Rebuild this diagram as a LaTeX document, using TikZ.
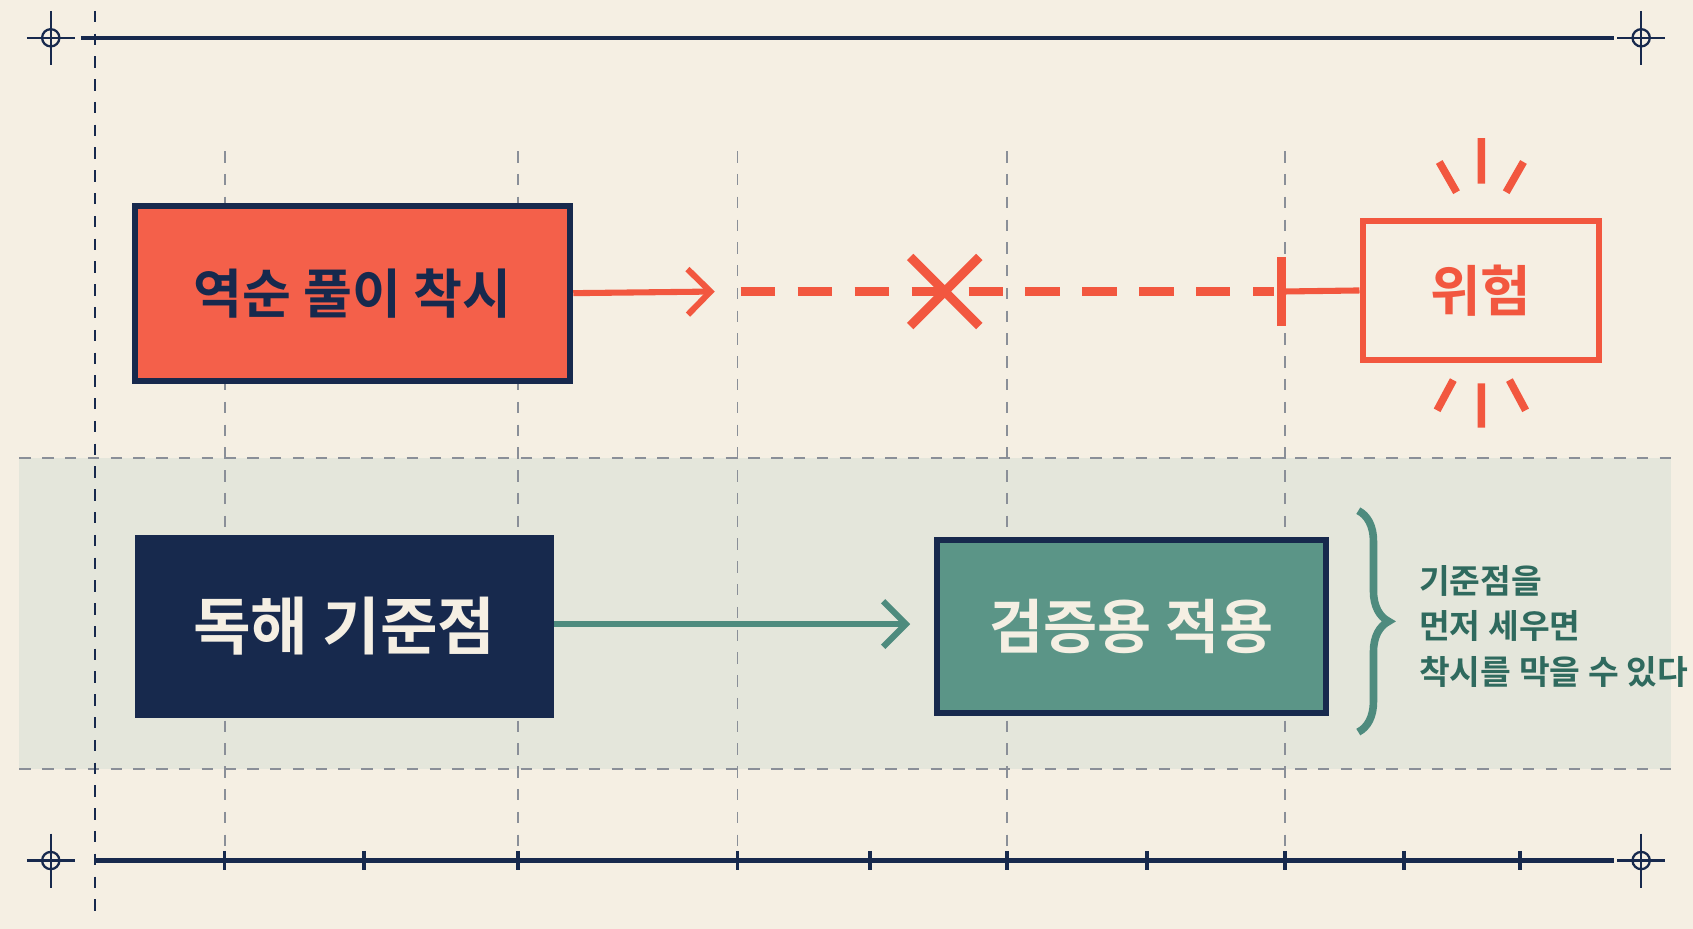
\documentclass[tikz,border=0pt]{standalone}
\usepackage{fontspec}
\newfontfamily\kr{Noto Sans CJK KR}[BoldFont={Noto Sans CJK KR Bold}]
\usetikzlibrary{arrows.meta,decorations.pathreplacing}
\definecolor{bg}{HTML}{F5EFE3}
\definecolor{navy}{HTML}{17294D}
\definecolor{red}{HTML}{F2573F}
\definecolor{redfill}{HTML}{F4604A}
\definecolor{band}{HTML}{E4E6DB}
\definecolor{green}{HTML}{4E8B7E}
\definecolor{greenfill}{HTML}{5B9587}
\definecolor{gtext}{HTML}{2F6A5E}
\definecolor{grid}{HTML}{8A8F98}
\begin{document}
\begin{tikzpicture}[x=0.01cm,y=-0.01cm,
  cross/.style={navy,line width=0.6pt},
  gridl/.style={grid,dashed,line width=0.5pt},
  box/.style={draw=navy,line width=1.6pt,minimum width=#1,minimum height=1.62cm,inner sep=0pt,font=\kr\bfseries},
  arr/.style={line width=1.6pt,-{Straight Barb[length=6pt,width=12pt]}}]
\fill[bg] (0,0) rectangle (1568,860);
\useasboundingbox (0,0) rectangle (1568,860);
% band
\fill[band] (18,424) rectangle (1548,712);
\draw[gridl] (18,424) -- (1548,424) (18,712) -- (1548,712);
% grid verticals
\foreach \x in {208,480,683,933,1190} \draw[gridl] (\x,140) -- (\x,790);
\draw[navy,dashed,line width=0.6pt] (88,10) -- (88,850);
% frame lines
\draw[navy,line width=1.2pt] (75,35) -- (1495,35);
\draw[navy,line width=1.2pt] (88,797) -- (1495,797);
\foreach \x in {208,337,480,683,806,933,1062,1190,1300,1408} \draw[navy,line width=1pt] (\x,788) -- (\x,806);
\foreach \px/\py in {47/35,1520/35,47/797,1520/797}{
  \draw[cross] (\px,\py) circle (8);
  \draw[cross] (\px-22,\py) -- (\px+22,\py) (\px,\py-25) -- (\px,\py+25);}
% top row
\node[box=4.03cm,fill=redfill,text=navy,font=\kr\bfseries\fontsize{14}{17}\selectfont] (a) at (326.5,271.5) {역순 풀이 착시};
\coordinate (a1) at (662,270);
\draw[red,arr] (a.east) -- (a1);
\coordinate (d0) at (686,270); \coordinate (d1) at (1180,270);
\draw[red,line width=2.2pt,dash pattern=on 9pt off 6pt] (d0) -- (d1);
\draw[red,line width=2.4pt] (843,238) -- (907,302) (843,302) -- (907,238);
\coordinate (b0) at (1187,238); \coordinate (b1) at (1187,302);
\draw[red,line width=2.4pt] (b0) -- (b1);
\node[draw=red,fill=bg,line width=1.6pt,minimum width=2.19cm,minimum height=1.28cm,text=red,font=\kr\bfseries\fontsize{14.5}{17}\selectfont] (r) at (1371.5,269) {위험};
\draw[red,line width=1.6pt] (1187,270) -- (r.west);
\draw[red,line width=2pt] (1372,128)--(1372,170) (1333,150)--(1349,178) (1411,150)--(1395,178)
  (1372,355)--(1372,396) (1346,352)--(1331,380) (1398,352)--(1413,380);
% bottom row
\node[box=3.82cm,minimum height=1.64cm,fill=navy,text=bg,font=\kr\bfseries\fontsize{16.5}{20}\selectfont] (n) at (319,580) {독해 기준점};
\node[box=3.60cm,minimum height=1.60cm,fill=greenfill,text=bg,font=\kr\bfseries\fontsize{15.5}{19}\selectfont] (g) at (1048,580) {검증용 적용};
\coordinate (g0) at (843,578);
\draw[green,arr] (n.east |- g0) -- (g0);
\coordinate (br0) at (1258,473); \coordinate (br1) at (1258,678);
\draw[green,line width=2pt,decorate,decoration={brace,amplitude=8pt}] (br0) -- (br1);
\node[text=gtext,font=\kr\bfseries\fontsize{8.8}{12}\selectfont,align=left,anchor=west] (t) at (1302,580) {기준점을\\먼저 세우면\\착시를 막을 수 있다};
\end{tikzpicture}
\end{document}
